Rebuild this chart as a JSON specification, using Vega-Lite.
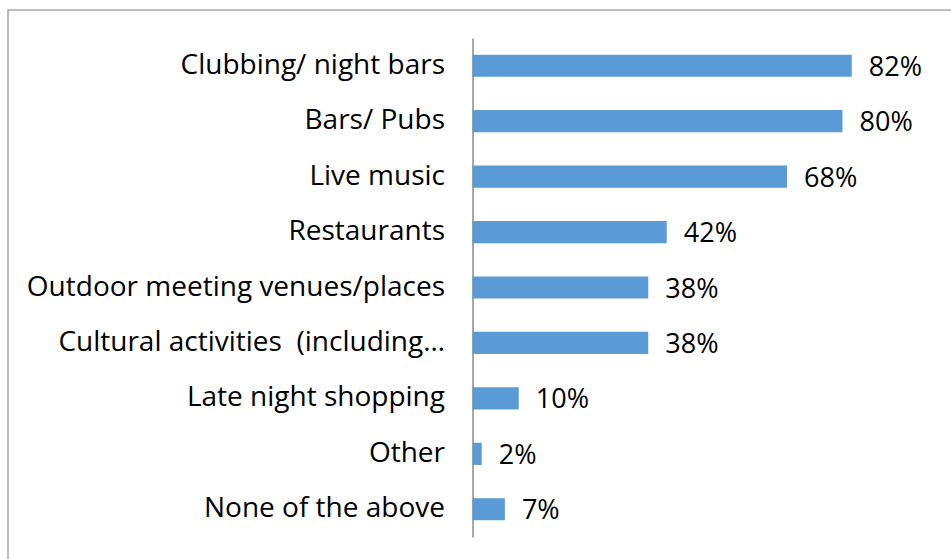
{
  "$schema": "https://vega.github.io/schema/vega-lite/v6.json",
  "autosize": "none",
  "padding": {"left": 8, "top": 10, "right": 0, "bottom": 0},
  "width": 950,
  "height": 560,
  "background": "white",
  "config": {
    "view": {"stroke": "#a6a6a6", "strokeWidth": 1.5},
    "font": "Open Sans"
  },
  "data": {
    "values": [
      {"category": "Clubbing/ night bars", "value": 0.82},
      {"category": "Bars/ Pubs", "value": 0.80},
      {"category": "Live music", "value": 0.68},
      {"category": "Restaurants", "value": 0.42},
      {"category": "Outdoor meeting venues/places", "value": 0.38},
      {"category": "Cultural activities \u00a0(including…", "value": 0.38},
      {"category": "Late night shopping", "value": 0.10},
      {"category": "Other", "value": 0.02},
      {"category": "None of the above", "value": 0.07}
    ]
  },
  "encoding": {
    "y": {
      "field": "category",
      "type": "nominal",
      "sort": null,
      "scale": {"range": [28, 527], "paddingInner": 0.6, "paddingOuter": 0.3},
      "axis": {
        "title": null,
        "offset": -464.5,
        "ticks": false,
        "domainColor": "#8c8c8c",
        "domainWidth": 1.5,
        "labelFont": "Open Sans",
        "labelFontSize": 28,
        "labelColor": "#000000",
        "labelPadding": 28,
        "labelLimit": 600
      }
    },
    "x": {
      "field": "value",
      "type": "quantitative",
      "scale": {"domain": [-1.0043, 1.0497], "nice": false, "zero": false},
      "axis": null
    }
  },
  "layer": [
    {"mark": {"type": "bar", "color": "#5b9bd5"}},
    {
      "mark": {"type": "text", "align": "left", "baseline": "middle", "dx": 17, "dy": 2, "fontSize": 27, "font": "Open Sans", "color": "#000000"},
      "encoding": {"text": {"field": "value", "type": "quantitative", "format": ".0%"}}
    }
  ]
}
